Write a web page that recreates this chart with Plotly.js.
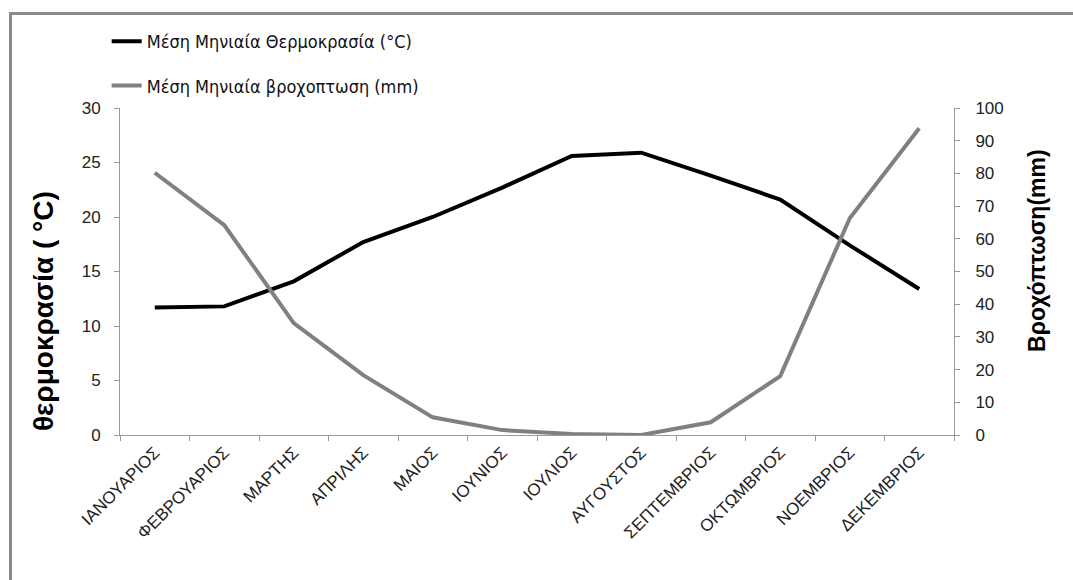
<!DOCTYPE html>
<html>
<head>
<meta charset="utf-8">
<script src="https://cdn.plot.ly/plotly-3.0.1.min.js"></script>
<style>
  html, body { margin: 0; padding: 0; background: #fff; }
  #chart { width: 1073px; height: 580px; }
  #frame { position: absolute; left: 9px; top: 12px; width: 1100px; height: 600px;
           border-top: 3px solid #8a8a8a; border-left: 3px solid #8a8a8a; pointer-events: none; }
</style>
</head>
<body>
<div id="chart"></div>
<div id="frame"></div>
<script>
const months = ["ΙΑΝΟΥΑΡΙΟΣ", "ΦΕΒΡΟΥΑΡΙΟΣ", "ΜΑΡΤΗΣ", "ΑΠΡΙΛΗΣ", "ΜΑΙΟΣ", "ΙΟΥΝΙΟΣ",
                "ΙΟΥΛΙΟΣ", "ΑΥΓΟΥΣΤΟΣ", "ΣΕΠΤΕΜΒΡΙΟΣ", "ΟΚΤΩΜΒΡΙΟΣ", "ΝΟΕΜΒΡΙΟΣ", "ΔΕΚΕΜΒΡΙΟΣ"];
const temperature = [11.7, 11.8, 14.1, 17.7, 20.0, 22.7, 25.6, 25.9, 23.8, 21.6, 17.4, 13.4];
const rainfall = [80.2, 64.2, 34.2, 18.3, 5.4, 1.5, 0.3, 0.0, 3.9, 18.0, 66.3, 93.8];
const tempName = "Μέση Μηνιαία Θερμοκρασία (°C)";
const rainName = "Μέση Μηνιαία βροχοπτωση (mm)";
const leftTitle = "θερμοκρασία ( °C)";
const rightTitle = "Βροχόπτωση(mm)";

const font = "'Liberation Sans Narrow', 'DejaVu Sans Condensed', 'Liberation Sans', sans-serif";
const tickFont = "'Liberation Sans', sans-serif";

const traces = [
  { x: months, y: temperature, name: tempName, type: "scatter", mode: "lines",
    line: { color: "#000000", width: 4 }, yaxis: "y", legendgroup: "a" },
  { x: months, y: rainfall, name: rainName, type: "scatter", mode: "lines",
    line: { color: "#808080", width: 4 }, yaxis: "y2", legendgroup: "b" }
];

const axisCommon = {
  showgrid: false, zeroline: false, showline: true, linecolor: "#9a9a9a", linewidth: 1,
  ticks: "outside", ticklen: 5, tickcolor: "#9a9a9a",
  tickfont: { family: tickFont, size: 17, color: "#222" }
};

const layout = {
  width: 1073, height: 580,
  margin: { l: 120, r: 119, t: 108, b: 145 },
  paper_bgcolor: "#fff", plot_bgcolor: "#fff",
  showlegend: true,
  legend: { x: -0.016, y: 1.26, xanchor: "left", yanchor: "top", tracegroupgap: 18,
            font: { family: font, size: 18, color: "#111" }, bgcolor: "rgba(0,0,0,0)" },
  xaxis: Object.assign({}, axisCommon, {
    type: "category", tickson: "boundaries", tickangle: -45, range: [-0.5, 11.5],
    tickfont: { family: tickFont, size: 17, color: "#222" }
  }),
  yaxis: Object.assign({}, axisCommon, {
    range: [0, 30], dtick: 5, tick0: 0, ticklabelstandoff: 10
  }),
  yaxis2: Object.assign({}, axisCommon, {
    range: [0, 100], dtick: 10, tick0: 0, overlaying: "y", side: "right", ticklabelstandoff: 12
  }),
  annotations: [
    { text: leftTitle, xref: "paper", yref: "paper", x: -0.0923, y: 0.379,
      xanchor: "center", yanchor: "middle", textangle: -90, showarrow: false,
      font: { family: tickFont, size: 28, color: "#000", weight: "bold" } },
    { text: rightTitle, xref: "paper", yref: "paper", x: 1.0995, y: 0.566,
      xanchor: "center", yanchor: "middle", textangle: -90, showarrow: false,
      font: { family: tickFont, size: 23, color: "#000", weight: "bold" } }
  ]
};

Plotly.newPlot("chart", traces, layout, { displayModeBar: false, staticPlot: true });
</script>
</body>
</html>
